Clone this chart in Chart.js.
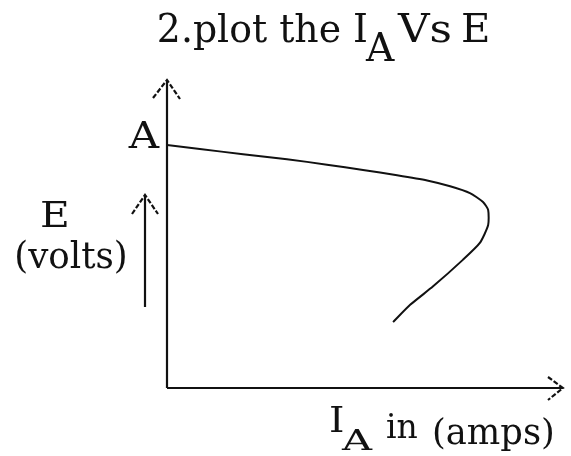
<!DOCTYPE html>
<html>
<head>
<meta charset="utf-8">
<script src="https://cdn.jsdelivr.net/npm/chart.js@4.4.1/dist/chart.umd.min.js"></script>
<style>
  html, body { margin: 0; padding: 0; background: #fff; }
  #wrap { width: 571px; height: 456px; }
</style>
</head>
<body>
<div id="wrap"><canvas id="myChart" width="571" height="456"></canvas></div>
<script>
// I_A (amps) against E (volts), arbitrary units 0..100
var currentIA = [0, 8.3, 19.2, 30.3, 40.4, 49.5, 58.1, 65.7, 71.5, 76.5, 79.8, 81.1, 81.1, 79.0, 74.7, 67.2, 61.4, 57.1];
var voltsE    = [78.9, 77.6, 75.9, 74.3, 72.5, 70.8, 69.1, 67.4, 65.5, 63.3, 60.4, 57.8, 52.9, 47.1, 41.6, 33.0, 27.0, 21.4];

var titleParts = ['2.plot the I', 'A', 'Vs', 'E'];
var yLabelTop = 'A';
var yLabelName = ['E', '(volts)'];
var xLabelParts = ['I', 'A', 'in', '(amps)'];

var points = currentIA.map(function (x, i) { return { x: x, y: voltsE[i] }; });

var FONT = '"DejaVu Serif", serif';

function txt(ctx, s, x, y, size, align, sx, sy) {
    ctx.save();
    ctx.font = size + 'px ' + FONT;
    ctx.textAlign = align || 'left';
    ctx.textBaseline = 'alphabetic';
    ctx.translate(x, y);
    ctx.scale(sx || 1.08, sy || 1.1);
    ctx.fillText(s, 0, 0);
    ctx.restore();
}

function line(ctx, pts, w, dash) {
    ctx.save();
    ctx.lineWidth = w;
    ctx.strokeStyle = '#111';
    ctx.setLineDash(dash || []);
    ctx.beginPath();
    ctx.moveTo(pts[0][0], pts[0][1]);
    for (var i = 1; i < pts.length; i++) ctx.lineTo(pts[i][0], pts[i][1]);
    ctx.stroke();
    ctx.restore();
}

var sketch = {
    id: 'sketch',
    afterDraw: function (chart) {
        var ctx = chart.ctx;
        var xs = chart.scales.x, ys = chart.scales.y;
        var x0 = xs.getPixelForValue(0), xMax = xs.getPixelForValue(100);
        var y0 = ys.getPixelForValue(0), yMax = ys.getPixelForValue(100);
        ctx.fillStyle = '#111';

        // axes with open arrow heads
        line(ctx, [[x0, y0], [x0, yMax]], 2.2);
        line(ctx, [[x0, y0], [xMax, y0]], 2.2);
        line(ctx, [[x0 - 14, yMax + 18], [x0, yMax], [x0 + 13, yMax + 19]], 2.2, [5, 2]);
        line(ctx, [[xMax - 15, y0 - 11], [xMax, y0], [xMax - 15, y0 + 12]], 2.2, [5, 2]);

        // title
        txt(ctx, titleParts[0], 368, 42, 35, 'right');
        txt(ctx, titleParts[1], 366, 61, 35, 'left', 1.12);
        txt(ctx, titleParts[2], 398, 42, 35, 'left', 1.25);
        txt(ctx, titleParts[3], 461, 42, 35, 'left', 1.15);

        // intercept label
        var yA = ys.getPixelForValue(voltsE[0]);
        txt(ctx, yLabelTop, 144, yA + 3, 35, 'center', 1.2, 1.05);

        // E (volts) with small arrow
        txt(ctx, yLabelName[0], 55, 227, 34, 'center', 1.2, 1.05);
        txt(ctx, yLabelName[1], 71, 268, 34, 'center', 1.05, 1.1);
        line(ctx, [[x0 - 22, 307], [x0 - 22, 195]], 2.2);
        line(ctx, [[x0 - 35, 214], [x0 - 22, 195], [x0 - 9, 214]], 2.2, [5, 2]);

        // x label
        txt(ctx, xLabelParts[0], 329, 432, 34, 'left', 1.15, 1.05);
        txt(ctx, xLabelParts[1], 342, 450, 32, 'left', 1.3, 0.85);
        txt(ctx, xLabelParts[2], 386, 438, 33, 'left', 1.0, 1.0);
        txt(ctx, xLabelParts[3], 432, 444, 33, 'left', 1.07, 1.05);
    }
};

var ctx = document.getElementById('myChart').getContext('2d');
var chart = new Chart(ctx, {
    type: 'scatter',
    data: {
        datasets: [{
            data: points,
            showLine: true,
            borderColor: '#111',
            borderWidth: 2,
            pointRadius: 0,
            tension: 0.2,
            fill: false
        }]
    },
    options: {
        responsive: false,
        animation: false,
        layout: { padding: { left: 167, right: 8, top: 80, bottom: 68 } },
        plugins: { legend: { display: false }, tooltip: { enabled: false } },
        scales: {
            x: { display: false, min: 0, max: 100 },
            y: { display: false, min: 0, max: 100 }
        }
    },
    plugins: [sketch]
});
</script>
</body>
</html>
